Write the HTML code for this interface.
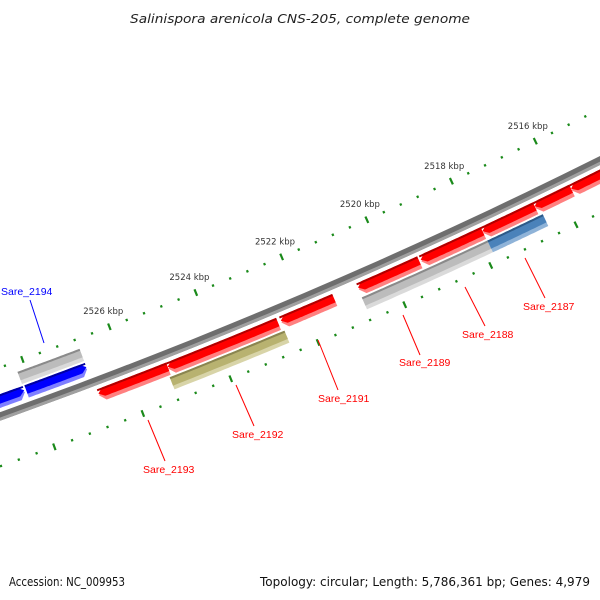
<!DOCTYPE html>
<html><head><meta charset="utf-8"><style>
html,body{margin:0;padding:0;background:#fff;width:600px;height:600px;overflow:hidden}
svg{display:block;font-family:"DejaVu Sans","Liberation Sans",sans-serif}
</style></head><body>
<svg id="map" width="600" height="600" viewBox="0 0 600 600">
<rect width="600" height="600" fill="#fff"/>
<text x="130" y="23" font-size="12.5" font-style="italic" fill="#222" textLength="340" lengthAdjust="spacingAndGlyphs">Salinispora arenicola CNS-205, complete genome</text>
<g id="ticks"></g>
<g id="backbone"></g>
<g id="features"></g>
<g id="labels" font-family="Liberation Sans, sans-serif">
<line x1="30" y1="300" x2="44" y2="343" stroke="#0000ff"/>
<text x="1" y="295" font-size="10.5" fill="#0000ff">Sare_2194</text>
<line x1="148" y1="420" x2="165" y2="461" stroke="#ff0000"/>
<text x="143" y="473" font-size="10.5" fill="#ff0000">Sare_2193</text>
<line x1="236" y1="385" x2="254" y2="426" stroke="#ff0000"/>
<text x="232" y="438" font-size="10.5" fill="#ff0000">Sare_2192</text>
<line x1="318" y1="340" x2="338" y2="390" stroke="#ff0000"/>
<text x="318" y="402" font-size="10.5" fill="#ff0000">Sare_2191</text>
<line x1="403" y1="315" x2="420" y2="355" stroke="#ff0000"/>
<text x="399" y="366" font-size="10.5" fill="#ff0000">Sare_2189</text>
<line x1="465" y1="287" x2="485" y2="326" stroke="#ff0000"/>
<text x="462" y="338" font-size="10.5" fill="#ff0000">Sare_2188</text>
<line x1="525" y1="258" x2="545" y2="298" stroke="#ff0000"/>
<text x="523" y="310" font-size="10.5" fill="#ff0000">Sare_2187</text>
</g>
<text x="9" y="586" font-size="12" fill="#111" textLength="116" lengthAdjust="spacingAndGlyphs">Accession: NC_009953</text>
<text x="260" y="586" font-size="12" fill="#111" textLength="330" lengthAdjust="spacingAndGlyphs">Topology: circular; Length: 5,786,361 bp; Genes: 4,979</text>
</svg>
<script>
// data (kbp)
const majorTickLabels = [2526, 2524, 2522, 2520, 2518, 2516];
const tickStart = 2508, tickEnd = 2534, tickStep = 0.4;
const featStart = [2526.73, 2525.15, 2522.55, 2520.76, 2519.30, 2517.85, 2516.62, 2515.76, 2529.5, 2528.15, 2528.19, 2525.19, 2520.77, 2517.84];
const featEnd   = [2525.15, 2522.62, 2521.32, 2519.34, 2517.85, 2516.62, 2515.76, 2514.0, 2528.19, 2526.77, 2526.77, 2522.56, 2517.84, 2516.54];
const featRing  = ['red','red','red','red','red','red','red','red','inner','inner','inner2','outer','outer','outer'];
const featKind  = ['red','red','red','red','red','red','red','red','blue','blue','gray','olive','gray','steel'];
const featDir   = [1,1,1,1,1,1,1,1,-1,-1,0,0,0,0];

const NS='http://www.w3.org/2000/svg';
const CX=-1842, CY=-4733;
function ang(k){return (68.91+(k-2526)*0.491)*Math.PI/180;}
function pt(r,k){const a=ang(k);return [CX+r*Math.cos(a),CY+r*Math.sin(a)];}
const ringR={red:[5477,5490],inner:[5448,5461],inner2:[5433,5446],outer:[5492,5505]};
const colors={red:['#ff0000','#ff8080','#b00000'],blue:['#0000ff','#7f7fff','#0000a0'],gray:['#bcbcbc','#dadada','#8a8a8a'],olive:['#b8b270','#d8d4a8','#8a8550'],steel:['#4a82ba','#8fb3d8','#2d5a88']};

function shape(k1,k2,r1,r2,dir){
  const hi=Math.max(k1,k2), lo=Math.min(k1,k2), head=0.12;
  const n=30, pts=[];
  let a1=hi, a2=lo;
  if(dir===1) a1=hi-head; if(dir===-1) a2=lo+head;
  for(let i=0;i<=n;i++) pts.push(pt(r1,a1+(a2-a1)*i/n));
  if(dir===-1) pts.push(pt((r1+r2)/2,lo));
  for(let i=n;i>=0;i--) pts.push(pt(r2,a1+(a2-a1)*i/n));
  if(dir===1) pts.push(pt((r1+r2)/2,hi));
  return pts.map(p=>p[0].toFixed(1)+','+p[1].toFixed(1)).join(' ');
}
function poly(g,pts,fill,name){
  const p=document.createElementNS(NS,'polygon');
  p.setAttribute('points',pts);p.setAttribute('fill',fill);
  
  
  g.appendChild(p);return p;
}
const tg=document.getElementById('ticks');
function tickRing(r,labels,ringName){
  const n=Math.round((tickEnd-tickStart)/tickStep);
  for(let i=0;i<=n;i++){
    const k=tickStart+i*tickStep;
    const major=Math.abs(k/2-Math.round(k/2))<1e-6;
    const h=major?3.5:1.2;
    const p1=pt(r-h,k),p2=pt(r+h,k);
    const l=document.createElementNS(NS,'line');
    l.setAttribute('x1',p1[0]);l.setAttribute('y1',p1[1]);l.setAttribute('x2',p2[0]);l.setAttribute('y2',p2[1]);
    l.setAttribute('stroke','#1a8a1a');l.setAttribute('stroke-width',2.2);
    
    
    tg.appendChild(l);
  }
  if(labels){
    majorTickLabels.forEach(k=>{
      const p=pt(r-17,k);
      const t=document.createElementNS(NS,'text');
      t.setAttribute('x',p[0]);t.setAttribute('y',p[1]+3);t.setAttribute('text-anchor','middle');
      t.setAttribute('font-size','8.5');t.setAttribute('fill','#333');
      t.textContent=k+' kbp';
      
      
      tg.appendChild(t);
    });
  }
}
tickRing(5423,true,'inner-ring');
tickRing(5516,false,'outer-ring');
const bg=document.getElementById('backbone');
poly(bg,shape(2534,2508,5465,5473,0),'#6e6e6e','backbone');
poly(bg,shape(2534,2508,5470,5473,0),'#a0a0a0','backbone-highlight');
const fg=document.getElementById('features');
for(let i=0;i<featStart.length;i++){
  const [r1,r2]=ringR[featRing[i]];const c=colors[featKind[i]];
  const g=document.createElementNS(NS,'g');
  
  
  fg.appendChild(g);
  poly(g,shape(featStart[i],featEnd[i],r1,r2,featDir[i]),c[1],'feature-light');
  poly(g,shape(featStart[i],featEnd[i],r1,r2-4,featDir[i]),c[0],'feature-body');
  poly(g,shape(featStart[i],featEnd[i],r1,r1+2,0),c[2],'feature-edge');
}
</script>
</body></html>
